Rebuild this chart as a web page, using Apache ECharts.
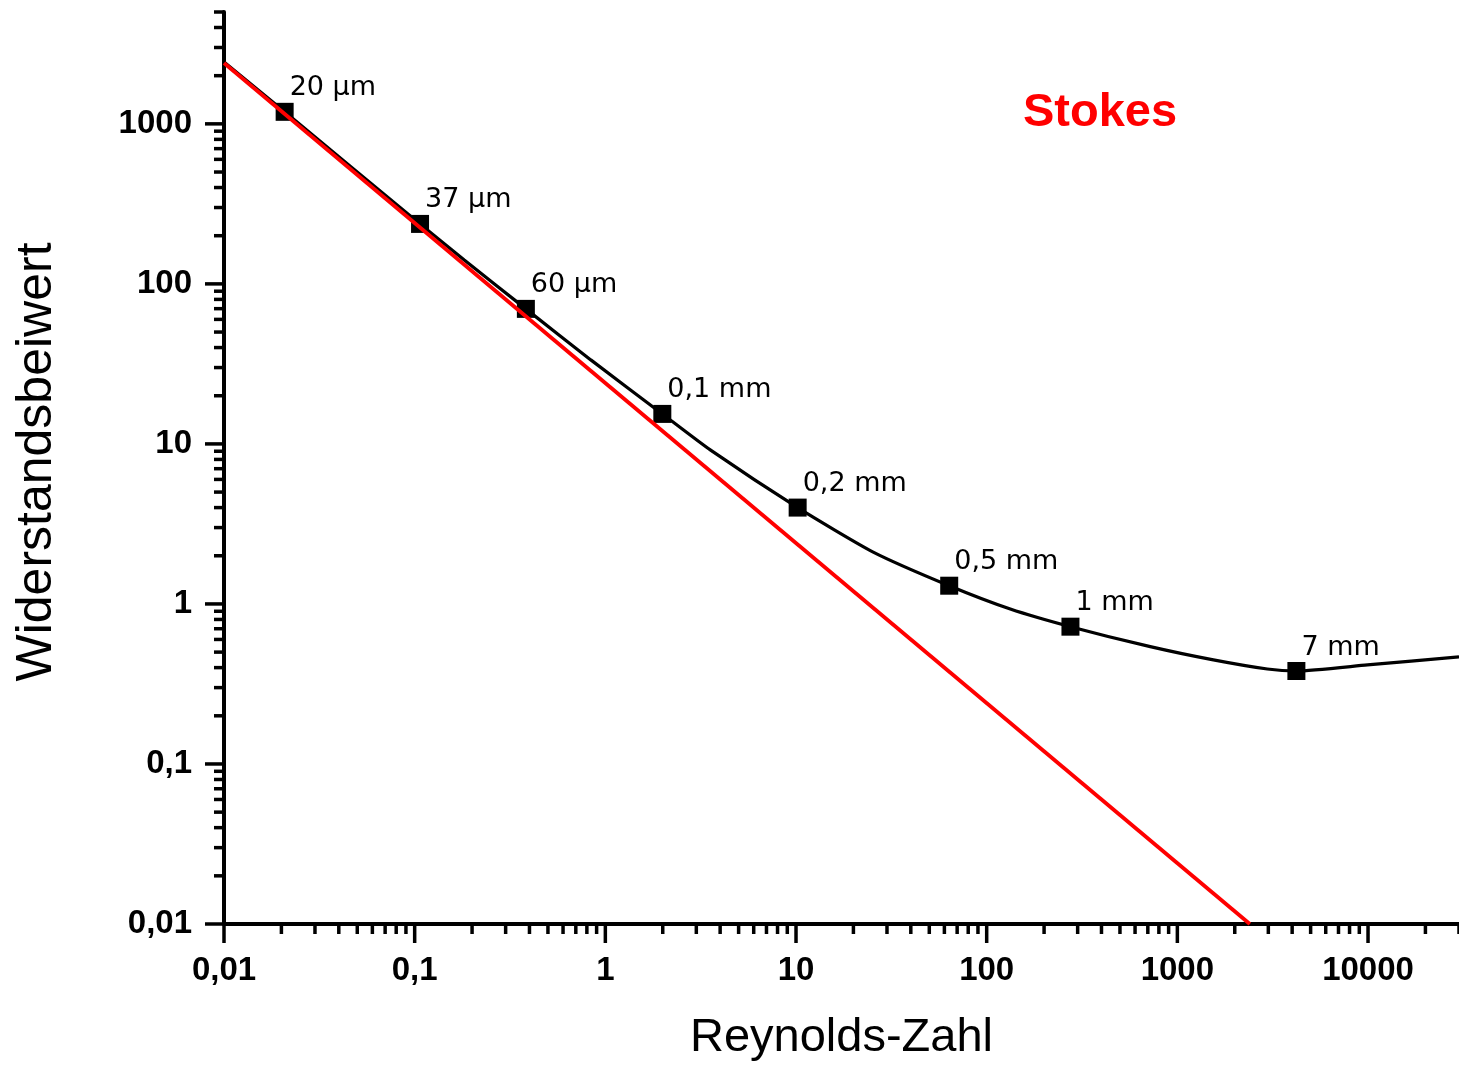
<!DOCTYPE html>
<html lang="de">
<head>
    <meta charset="UTF-8">
    <title>Widerstandsbeiwert</title>
    <script src="https://cdn.jsdelivr.net/npm/echarts@6/dist/echarts.min.js"></script>
    <style>
        html, body { margin: 0; padding: 0; background: #fff; }
        #chart1 { width: 1459px; height: 1068px; }
    </style>
</head>
<body>
<div id="chart1"></div>
<script type="text/javascript">
    // Messkurve (Reynolds-Zahl, Widerstandsbeiwert)
    var reData = [0.01, 0.0208, 0.1067, 0.182, 0.383, 0.839, 1.99, 3.55, 10.2, 25.4, 63.6, 133, 275, 721, 1545, 2965, 4210, 9930, 30000];
    var cwData = [2440, 1189, 237, 141, 69.8, 33.5, 15.4, 9.17, 4.0, 2.11, 1.30, 0.93, 0.721, 0.541, 0.447, 0.392, 0.381, 0.416, 0.467];

    // Stokes-Gerade
    var stokesRe = [0.01, 2400];
    var stokesCw = [2400, 0.01];

    // markierte Kugeldurchmesser
    var markerRe = [0.0208, 0.1067, 0.383, 1.99, 10.2, 63.6, 275, 4210];
    var markerCw = [1189, 237, 69.8, 15.4, 4.0, 1.30, 0.721, 0.381];
    var markerNames = ['20 µm', '37 µm', '60 µm', '0,1 mm', '0,2 mm', '0,5 mm', '1 mm', '7 mm'];

    // Achsen
    var X_MIN = 0.01, X_MAX = 30000;
    var Y_MIN = 0.01, Y_MAX = 5000;
    var xMajor = [0.01, 0.1, 1, 10, 100, 1000, 10000];
    var xTickLabels = ['0,01', '0,1', '1', '10', '100', '1000', '10000'];
    var yMajor = [0.01, 0.1, 1, 10, 100, 1000];
    var yTickLabels = ['0,01', '0,1', '1', '10', '100', '1000'];
    var minorSteps = [2, 3, 4, 5, 6, 7, 8, 9];

    function minors(majors, maxVal) {
        var out = [];
        majors.forEach(function (d) {
            minorSteps.forEach(function (s) {
                var v = d * s;
                if (v <= maxVal * 1.0001) out.push(v);
            });
        });
        return out;
    }

    function labelFor(majors, labels) {
        return function (value) {
            var lv = Math.log10(value);
            for (var i = 0; i < majors.length; i++) {
                if (Math.abs(lv - Math.log10(majors[i])) < 1e-6) return labels[i];
            }
            return '';
        };
    }

    var xTickData = xMajor.map(function (v) { return [v, Y_MIN, 19]; })
        .concat(minors(xMajor, X_MAX).map(function (v) { return [v, Y_MIN, 10]; }));
    var yTickData = yMajor.map(function (v) { return [X_MIN, v, 19]; })
        .concat(minors(yMajor, Y_MAX).map(function (v) { return [X_MIN, v, 10]; }));

    var chart1 = echarts.init(document.getElementById('chart1'));

    var axisFont = {
        fontFamily: '"Liberation Sans", Arial, sans-serif',
        fontWeight: 'bold',
        fontSize: 33,
        color: '#000'
    };

    var option = {
        animation: false,
        backgroundColor: '#fff',
        grid: {
            left: 224,
            right: 0,
            top: 12,
            bottom: 144,
            containLabel: false,
            outerBoundsMode: 'none'
        },
        xAxis: {
            type: 'log',
            logBase: 10,
            min: X_MIN,
            max: X_MAX,
            name: 'Reynolds-Zahl',
            nameLocation: 'middle',
            nameGap: 91,
            nameTextStyle: {
                fontFamily: '"Liberation Sans", Arial, sans-serif',
                fontSize: 47,
                color: '#000'
            },
            axisLine: { show: true, lineStyle: { color: '#000', width: 4 } },
            axisTick: { show: false },
            splitLine: { show: false },
            axisLabel: Object.assign({ margin: 30, formatter: labelFor(xMajor, xTickLabels) }, axisFont)
        },
        yAxis: {
            type: 'log',
            logBase: 10,
            min: Y_MIN,
            max: Y_MAX,
            name: 'Widerstandsbeiwert',
            nameLocation: 'middle',
            nameGap: 162,
            nameTextStyle: {
                fontFamily: '"Liberation Sans", Arial, sans-serif',
                fontSize: 50,
                color: '#000',
                padding: [0, 0, 0, 12]
            },
            axisLine: { show: true, lineStyle: { color: '#000', width: 4 } },
            axisTick: { show: false },
            splitLine: { show: false },
            axisLabel: Object.assign({ margin: 32, formatter: labelFor(yMajor, yTickLabels) }, axisFont)
        },
        graphic: [{
            type: 'text',
            left: 1023,
            top: 90,
            style: {
                text: 'Stokes',
                font: 'bold 47px "Liberation Sans", Arial, sans-serif',
                fill: '#ff0000'
            }
        }],
        series: [
            {
                // Striche an der x-Achse
                type: 'custom',
                silent: true,
                clip: false,
                encode: { x: 0, y: 1 },
                data: xTickData,
                renderItem: function (params, api) {
                    var p = api.coord([api.value(0), api.value(1)]);
                    var len = api.value(2);
                    return {
                        type: 'line',
                        shape: { x1: p[0], y1: p[1], x2: p[0], y2: p[1] + len },
                        style: { stroke: '#000', lineWidth: 3.5 }
                    };
                }
            },
            {
                // Striche an der y-Achse
                type: 'custom',
                silent: true,
                clip: false,
                encode: { x: 0, y: 1 },
                data: yTickData,
                renderItem: function (params, api) {
                    var p = api.coord([api.value(0), api.value(1)]);
                    var len = api.value(2);
                    return {
                        type: 'line',
                        shape: { x1: p[0], y1: p[1], x2: p[0] - len, y2: p[1] },
                        style: { stroke: '#000', lineWidth: 3.5 }
                    };
                }
            },
            {
                type: 'line',
                data: reData.map(function (r, i) { return [r, cwData[i]]; }),
                showSymbol: false,
                symbol: 'none',
                smooth: 0.2,
                lineStyle: { color: '#000', width: 3.2 }
            },
            {
                type: 'scatter',
                data: markerRe.map(function (r, i) { return [r, markerCw[i]]; }),
                symbol: 'rect',
                symbolSize: 18,
                itemStyle: { color: '#000', opacity: 1 },
                label: {
                    show: true,
                    position: [14, -28],
                    formatter: function (p) { return markerNames[p.dataIndex]; },
                    fontFamily: '"DejaVu Sans", sans-serif',
                    fontSize: 27,
                    color: '#000'
                }
            },
            {
                type: 'line',
                data: stokesRe.map(function (r, i) { return [r, stokesCw[i]]; }),
                showSymbol: false,
                symbol: 'none',
                lineStyle: { color: '#ff0000', width: 3.8 }
            }
        ]
    };
    chart1.setOption(option);
</script>
</body>
</html>
